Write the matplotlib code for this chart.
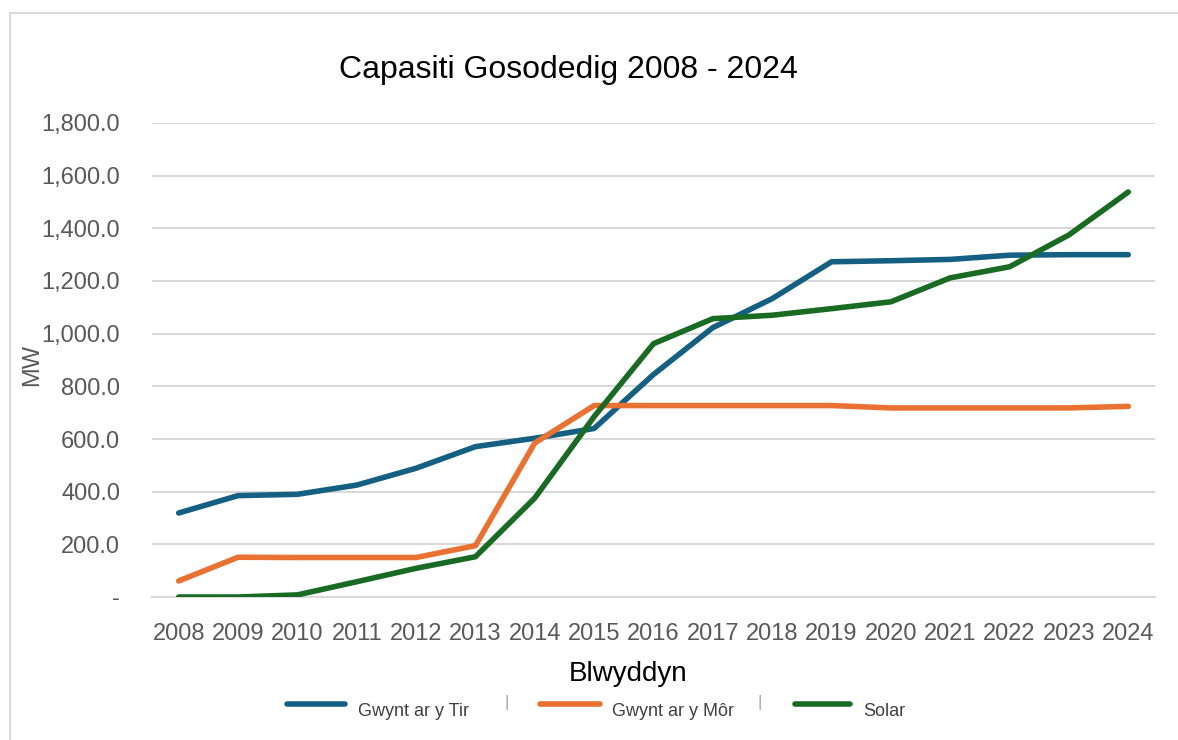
import matplotlib.pyplot as plt
from matplotlib.patches import Rectangle
from matplotlib.lines import Line2D
from matplotlib.ticker import FuncFormatter

plt.rcParams['font.family'] = ['Liberation Sans', 'DejaVu Sans']

years = [str(y) for y in range(2008, 2025)]
gwynt_tir = [319, 385, 390, 425, 489, 571, 603, 640, 845, 1023, 1133, 1273, 1277, 1282, 1298, 1300, 1300]
gwynt_mor = [61, 151, 150, 150, 150, 195, 585, 727, 727, 727, 727, 727, 718, 718, 718, 718, 724]
solar = [0, 0, 8, 58, 109, 153, 376, 685, 962, 1057, 1070, 1095, 1121, 1212, 1254, 1375, 1538]

labels = ['Gwynt ar y Tir', 'Gwynt ar y Môr', 'Solar']
colors = ['#156082', '#E97132', '#196B24']

W, H = 1178, 740
fig = plt.figure(figsize=(W / 100, H / 100), dpi=100)
ax = fig.add_axes([152/W, 1 - 597/H, (1155 - 152)/W, (597 - 123)/H])

x = range(len(years))
for vals, c in zip([gwynt_tir, gwynt_mor, solar], colors):
    ax.plot(x, vals, color=c, linewidth=4, solid_capstyle='round', solid_joinstyle='round', zorder=3)

ax.set_xlim(-0.45, len(years) - 0.55)
ax.set_ylim(0, 1800)
ax.set_yticks(range(0, 1801, 200))
ax.yaxis.set_major_formatter(FuncFormatter(lambda v, p: '-' if v == 0 else f'{v:,.1f}'))
ax.set_xticks(list(x))
ax.set_xticklabels(years)
ax.grid(axis='y', color='#D9D9D9', linewidth=1.5, zorder=0)
for s in ax.spines.values():
    s.set_visible(False)
ax.spines['bottom'].set_visible(True)
ax.spines['bottom'].set_color('#D9D9D9')
ax.spines['bottom'].set_linewidth(1.5)
ax.tick_params(length=0, labelsize=17, colors='#595959')
ax.tick_params(axis='x', pad=19)
ax.tick_params(axis='y', pad=23)

# axis titles and chart title
fig.text(32/W, 1 - 365/H, 'MW', fontsize=17, color='#595959', rotation=90, ha='center', va='center')
fig.text(628/W, 1 - 674/H, 'Blwyddyn', fontsize=20, color='#000000', ha='center', va='center')
fig.text(568/W, 1 - 70/H, 'Capasiti Gosodedig 2008 - 2024', fontsize=23, ha='center', va='center')

# legend drawn by hand to keep Excel spacing
legend_lines = [(287, 345), (540, 600), (795, 850)]
legend_text_x = [358, 612, 863]
for (x0, x1), tx, c, lab in zip(legend_lines, legend_text_x, colors, labels):
    fig.add_artist(Line2D([x0/W, x1/W], [1 - 704/H, 1 - 704/H], color=c, linewidth=4,
                          solid_capstyle='round', transform=fig.transFigure))
    fig.text(tx/W, 1 - 711/H, lab, fontsize=13, color='#404040', ha='left', va='center')
for sx in [507, 760]:
    fig.text(sx/W, 1 - 703/H, '|', fontsize=12, color='#A6A6A6', ha='center', va='center')

# outer border
fig.patches.append(Rectangle((10/W, -0.1), 1.2, 1 - 13/H + 0.1, transform=fig.transFigure,
                             fill=False, edgecolor='#D9D9D9', linewidth=1.5))

fig.savefig('out.png', dpi=100)
